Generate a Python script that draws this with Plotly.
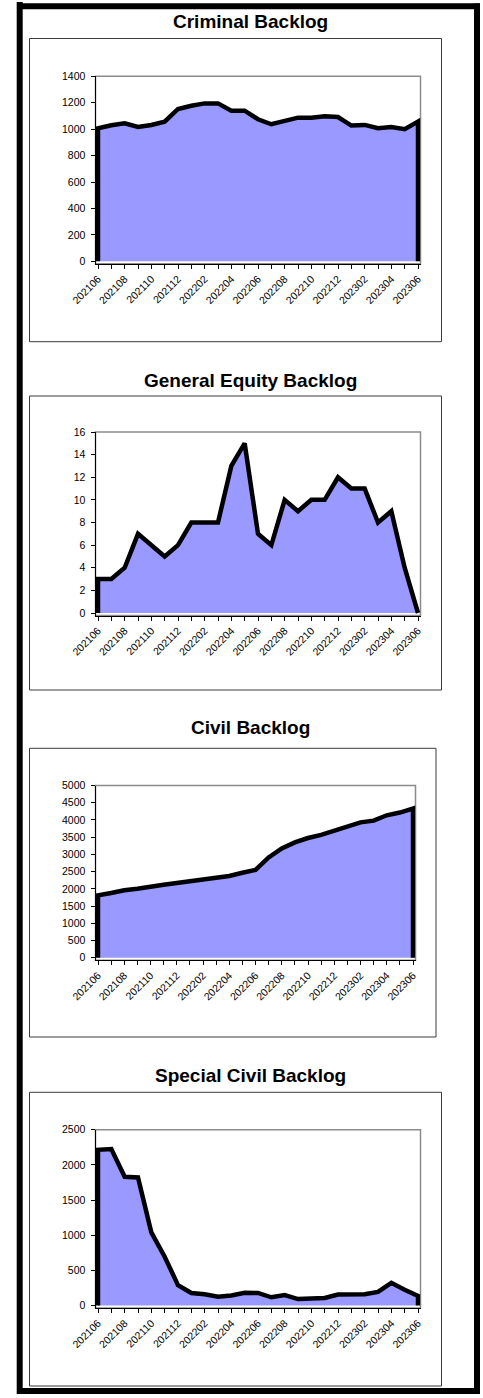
import plotly.graph_objects as go

# ---------------- data ----------------
months = ["202106", "202107", "202108", "202109", "202110", "202111", "202112",
          "202201", "202202", "202203", "202204", "202205", "202206", "202207",
          "202208", "202209", "202210", "202211", "202212", "202301", "202302",
          "202303", "202304", "202305", "202306"]

criminal = [1007, 1029, 1044, 1017, 1032, 1057, 1153, 1177, 1195, 1195, 1140, 1140, 1075,
            1037, 1062, 1087, 1087, 1097, 1092, 1027, 1032, 1007, 1017, 1000, 1057]
general_equity = [3, 3, 4, 7, 6, 5, 6, 8, 8, 8, 13, 15, 7, 6, 10, 9, 10, 10, 12, 11, 11, 8, 9, 4, 0]
civil = [1810, 1880, 1960, 2000, 2070, 2120, 2170, 2220, 2265, 2305, 2375, 2465, 2550,
         2910, 3175, 3350, 3475, 3565, 3685, 3815, 3930, 3980, 4135, 4215, 4330]
special_civil = [2214, 2225, 1831, 1822, 1040, 694, 290, 178, 160, 125, 143, 181, 178,
                 117, 148, 91, 102, 108, 155, 155, 160, 193, 323, 223, 136]

titles = ["Criminal Backlog", "General Equity Backlog", "Civil Backlog", "Special Civil Backlog"]
series = [criminal, general_equity, civil, special_civil]
y_max = [1400, 16, 5000, 2500]
y_step = [200, 2, 500, 500]

# ---------------- geometry (pixels) ----------------
W, H = 483, 1398
# plot data extents: left, right, top(ymax), bottom(0)
plot_px = [(98, 418, 76.3, 261.3),
           (98, 418, 432.0, 613.0),
           (98, 413, 785.5, 957.7),
           (98, 418, 1129.7, 1305.5)]
# chart boxes: x0, y0, x1, y1
box_px = [(29.5, 38.5, 441.5, 341.7),
          (29.5, 396.0, 441.5, 690.0),
          (29.5, 748.3, 436.0, 1037.0),
          (29.5, 1092.3, 441.5, 1386.0)]
title_px = [(250.5, 21.5), (251, 380.5), (250.5, 727.5), (251, 1075.0)]
PAD = 2.5

FONT = "Liberation Sans, Arial, sans-serif"
FILL = "#9999FF"

fig = go.Figure()
shapes = []
annotations = []

n = len(months)
xi = list(range(n))
ticktext = [m if i % 2 == 0 else "" for i, m in enumerate(months)]

for k in range(4):
    L, R, T, B = plot_px[k]
    ax = "" if k == 0 else str(k + 1)
    xname, yname = "x" + ax, "y" + ax
    vals = series[k]
    fig.add_trace(go.Scatter(
        x=[xi[0]] + xi + [xi[-1]],
        y=[0] + vals + [0],
        mode="lines", fill="toself", fillcolor=FILL,
        line=dict(color="black", width=4.5),
        hoverinfo="skip", showlegend=False,
        xaxis=xname, yaxis=yname,
    ))
    ppx = (R - L) / (n - 1)
    ppy = (B - T) / y_max[k]
    xaxis = dict(
        domain=[(L - PAD) / W, (R + PAD) / W],
        range=[-PAD / ppx, (n - 1) + PAD / ppx],
        tickmode="array", tickvals=xi, ticktext=ticktext, tickangle=-45,
        ticks="outside", ticklen=4, tickwidth=1, tickcolor="black",
        showline=True, linecolor="black", linewidth=1,
        showgrid=False, zeroline=False, anchor=yname, automargin=False,
        tickfont=dict(family=FONT, size=10.5, color="black"),
        fixedrange=True,
    )
    yaxis = dict(
        domain=[1 - (B + PAD) / H, 1 - T / H],
        range=[-PAD / ppy, y_max[k]],
        tickmode="linear", tick0=0, dtick=y_step[k],
        ticks="outside", ticklen=4, tickwidth=1, tickcolor="black",
        ticklabelstandoff=3,
        showline=True, linecolor="black", linewidth=1,
        showgrid=False, zeroline=False, anchor=xname, automargin=False,
        tickfont=dict(family=FONT, size=10.5, color="black"),
        fixedrange=True,
    )
    fig.update_layout(**{"xaxis" + ax: xaxis, "yaxis" + ax: yaxis})

    # gray plot-area border (top / right)
    shapes.append(dict(type="rect", xref=xname + " domain", yref=yname + " domain",
                       x0=0, x1=1, y0=0, y1=1, line=dict(color="#8c8c8c", width=1.5),
                       layer="below", fillcolor="white"))
    # chart box
    bx0, by0, bx1, by1 = box_px[k]
    shapes.append(dict(type="rect", xref="paper", yref="paper",
                       x0=bx0 / W, x1=bx1 / W, y0=1 - by1 / H, y1=1 - by0 / H,
                       line=dict(color="#3a3a3a", width=1), layer="below"))
    tx, ty = title_px[k]
    annotations.append(dict(text="<b>" + titles[k] + "</b>", x=tx / W, y=1 - ty / H,
                            xref="paper", yref="paper", xanchor="center", yanchor="middle",
                            showarrow=False,
                            font=dict(family=FONT, size=19, color="black")))

# outer thick frame
frame = [(19.7, 2, 19.7, 1394), (17, 6.3, 480, 6.3), (477, 3.5, 477, 1394), (17, 1391, 480, 1391)]
for (x0, y0, x1, y1) in frame:
    shapes.append(dict(type="line", xref="paper", yref="paper",
                       x0=x0 / W, x1=x1 / W, y0=1 - y0 / H, y1=1 - y1 / H,
                       line=dict(color="black", width=6)))

fig.update_layout(
    width=W, height=H, margin=dict(l=0, r=0, t=0, b=0, autoexpand=False),
    paper_bgcolor="white", plot_bgcolor="rgba(0,0,0,0)",
    shapes=shapes, annotations=annotations, showlegend=False,
    font=dict(family=FONT, color="black"),
)

fig.write_html("out.html", config={"displayModeBar": False},
               post_script="document.body.style.margin='0';document.body.style.overflow='hidden';")
